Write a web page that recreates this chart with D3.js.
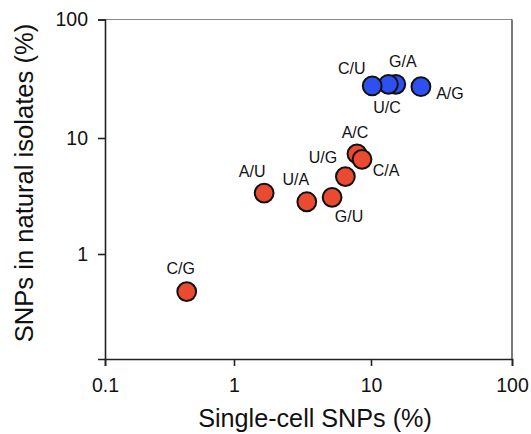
<!DOCTYPE html>
<html>
<head>
<meta charset="utf-8">
<script src="https://cdn.jsdelivr.net/npm/d3@7"></script>
<style>
  html, body { margin: 0; padding: 0; background: #fff; }
  svg { display: block; }
  text { font-family: "Liberation Sans", Arial, Helvetica, sans-serif; fill: #111; }
</style>
</head>
<body>
<svg id="chart" width="531" height="434"></svg>
<script>
// ---- data ----
const labels   = ["C/G", "A/U", "U/A", "G/U", "U/G", "A/C", "C/A", "A/G", "G/A", "U/C", "C/U"];
const singleCell = [0.43, 1.66, 3.4, 5.2, 6.5, 7.9, 8.6, 22.6, 15.0, 13.3, 10.2];
const natural    = [0.475, 3.35, 2.82, 3.08, 4.65, 7.3, 6.55, 27.1, 28.4, 28.4, 27.5];
const groups     = ["red", "red", "red", "red", "red", "red", "red", "blue", "blue", "blue", "blue"];
const xTickValues = [0.1, 1, 10, 100];
const xTickLabels = ["0.1", "1", "10", "100"];
const yTickValues = [1, 10, 100];
const yTickLabels = ["1", "10", "100"];
const xTitle = "Single-cell SNPs (%)";
const yTitle = "SNPs in natural isolates (%)";

// ---- layout (label baseline offsets relative to point, in px) ----
const labelOffsets = {
  "C/G": [-6, -17.5], "A/U": [-12, -16.5], "U/A": [-11, -16.5], "G/U": [17, 24.5],
  "U/G": [-22.5, -13.5], "A/C": [-2, -15.5], "C/A": [24, 16.5], "A/G": [29, 12.5],
  "G/A": [7, -17.5], "U/C": [-1.5, 28.5], "C/U": [-20.5, -11.5]
};
const colors = { red: "#e94a30", blue: "#2f50f0" };

const svg = d3.select("#chart");

const x = d3.scaleLog().domain([0.1, 1, 10, 100]).range([105, 234, 371, 512]);
const y = d3.scaleLog().domain([0.125, 1, 10, 100]).range([359, 254, 138, 19.5]);

const [x0, x1] = [x(0.1), x(100)];
const [yB, yT] = [y(0.125), y(100)];

// frame top & right
svg.append("line").attr("x1", x0).attr("x2", x1).attr("y1", yT).attr("y2", yT)
  .attr("stroke", "#8a8a8a").attr("stroke-width", 1.2);
svg.append("line").attr("x1", x1).attr("x2", x1).attr("y1", yT).attr("y2", yB)
  .attr("stroke", "#333").attr("stroke-width", 1.3);

// axes
const xAxis = d3.axisBottom(x).tickValues(xTickValues)
  .tickFormat((d, i) => xTickLabels[i]).tickSizeOuter(0).tickSize(7).tickPadding(12);
const gx = svg.append("g").attr("transform", `translate(0,${yB})`).call(xAxis);

const yAxis = d3.axisLeft(y).tickValues(yTickValues)
  .tickFormat((d, i) => yTickLabels[i]).tickSizeOuter(0).tickSize(7).tickPadding(10);
const gy = svg.append("g").attr("transform", `translate(${x0},0)`).call(yAxis);

[gx, gy].forEach(g => {
  g.select(".domain").attr("stroke", "#222").attr("stroke-width", 1.6);
  g.selectAll(".tick line").attr("stroke", "#222").attr("stroke-width", 1.6);
  g.selectAll(".tick text").attr("font-size", 19.5).attr("fill", "#111")
    .attr("font-family", '"Liberation Sans", Arial, sans-serif');
});

// titles
svg.append("text").attr("x", 315).attr("y", 427).attr("text-anchor", "middle")
  .attr("font-size", 25.2).text(xTitle);
svg.append("text").attr("transform", "translate(33,183) rotate(-90)")
  .attr("text-anchor", "middle").attr("font-size", 25.6).text(yTitle);

// points
const pts = labels.map((l, i) => ({ l, sx: singleCell[i], ny: natural[i], g: groups[i] }));
svg.append("g").selectAll("circle").data(pts).join("circle")
  .attr("cx", d => x(d.sx)).attr("cy", d => y(d.ny)).attr("r", 9.4)
  .attr("fill", d => colors[d.g]).attr("stroke", "#111").attr("stroke-width", 2);

svg.append("g").selectAll("text").data(pts).join("text")
  .attr("x", d => x(d.sx) + labelOffsets[d.l][0])
  .attr("y", d => y(d.ny) + labelOffsets[d.l][1])
  .attr("text-anchor", "middle").attr("font-size", 16)
  .text(d => d.l);
</script>
</body>
</html>
